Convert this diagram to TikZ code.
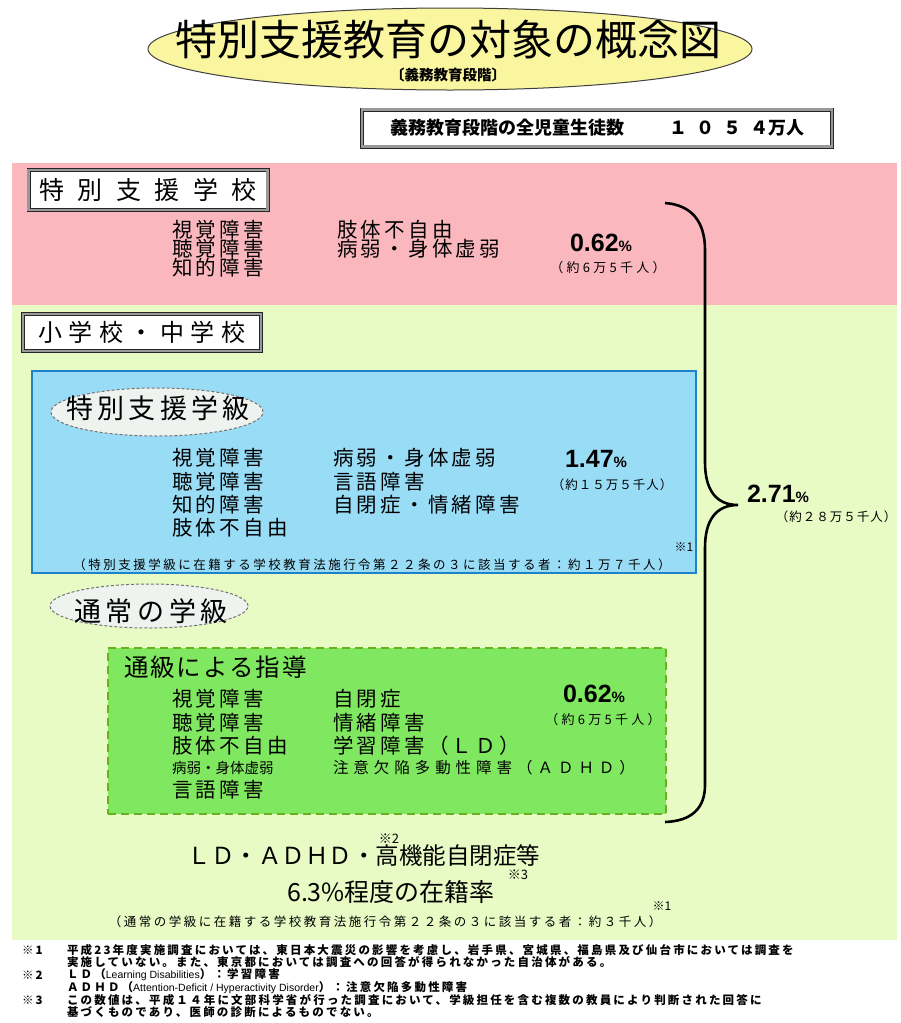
\documentclass[tikz,border=0pt]{standalone}
\usepackage{fontspec}
\usetikzlibrary{shapes.geometric}
\newfontfamily\jp{Noto Sans CJK JP}
\newfontfamily\jpR[LetterSpace=16]{Noto Sans CJK JP}
\newfontfamily\jpS[LetterSpace=20]{Noto Sans CJK JP}
\newfontfamily\jpF[LetterSpace=19]{Noto Sans CJK JP}
\newfontfamily\jpT[LetterSpace=8]{Noto Sans CJK JP}
\newfontfamily\jpW[LetterSpace=32]{Noto Sans CJK JP}
\newfontfamily\jpX[LetterSpace=25]{Noto Sans CJK JP}
\newfontfamily\lat{Liberation Sans}
\definecolor{pinkbg}{RGB}{250,184,190}
\definecolor{greenbg}{RGB}{232,251,197}
\definecolor{bluefill}{RGB}{153,220,246}
\definecolor{blueline}{RGB}{30,130,200}
\definecolor{gfill}{RGB}{128,232,96}
\definecolor{gline}{RGB}{105,175,30}
\definecolor{titley}{RGB}{250,246,160}
\definecolor{ellfill}{RGB}{238,243,240}
\newcommand\gapk[1]{\kern#1pt}
\newcommand\pcs{{\fontsize{15}{15}\selectfont\%}}
\newcommand\latf{\lat\mdseries\fontsize{10.5}{10.5}\selectfont}
\begin{document}
\begin{tikzpicture}[x=1pt,y=-1pt,
  lbl/.style={inner sep=0pt, outer sep=0pt},
  row/.style={lbl, anchor=west, font=\fontsize{20.5}{20.5}\jpR},
  rowsmall/.style={lbl, anchor=west, font=\fontsize{14.5}{14.5}\jp},
  rowwide/.style={lbl, anchor=west, font=\fontsize{15.5}{15.5}\jpW},
  pct/.style={lbl, anchor=base west, font=\fontsize{25}{25}\lat\bfseries},
  cnt/.style={lbl, font=\fontsize{13}{13}\jpX},
  cntw/.style={lbl, font=\fontsize{12.5}{12.5}\jpT},
  note/.style={lbl, font=\fontsize{12.5}{12.5}\jpS},
  refmark/.style={lbl, font=\fontsize{12}{12}\jp},
  dblbox/.style={draw=black!85, line width=0.9pt, double=black!40, double distance=2.2pt, fill=white, inner sep=0pt},
  dashell/.style={ellipse, draw=black!55, dash pattern=on 3pt off 2pt, line width=1pt, fill=ellfill, inner sep=0pt},
  foot/.style={lbl, anchor=west, font=\fontsize{11.5}{11.5}\jpF\bfseries},
]
\useasboundingbox (0,0) rectangle (900,1023);
\fill[white] (0,0) rectangle (900,1023);

% zones
\node[lbl, fill=pinkbg, minimum width=885pt, minimum height=142pt, anchor=north west] (pinkzone) at (12,163) {};
\node[lbl, fill=greenbg, minimum width=885pt, minimum height=635pt, anchor=north west] (greenzone) at (12,305) {};

% title
\node[ellipse, draw=black!75, line width=1pt, fill=titley, minimum width=604pt, minimum height=82pt, inner sep=0pt] (titleell) at (450,49) {};
\node[lbl, font=\fontsize{42}{42}\jp] (title) at (448,40) {特別支援教育の対象の概念図};
\node[lbl, font=\fontsize{14.5}{14.5}\jp\bfseries] (subtitle) at (448,75) {〔義務教育段階〕};

% total box
\node[dblbox, minimum width=470pt, minimum height=37pt, font=\fontsize{18}{18}\jp\bfseries] (total) at (597,128)
  {義務教育段階の全児童生徒数\gapk{45}１\gapk{9}０\gapk{9}５\gapk{9}４万人};

% special school
\node[dblbox, minimum width=239pt, minimum height=40pt, font=\fontsize{25}{25}\jp] (schoolbox) at (148,190)
  {特\gapk{13.4}別\gapk{13.4}支\gapk{13.4}援\gapk{13.4}学\gapk{13.4}校};
\node[row] (p11) at (172,230) {視覚障害};
\node[row] (p12) at (172,249) {聴覚障害};
\node[row] (p13) at (172,268) {知的障害};
\node[row] (p21) at (337,230) {肢体不自由};
\node[row] (p22) at (337,249) {病弱・身体虚弱};
\node[pct] (p1pct) at (570,251) {0.62\pcs};
\node[cnt] (p1cnt) at (608,268) {（約6万5千人）};

% elementary / junior high
\node[dblbox, minimum width=238pt, minimum height=37pt, font=\fontsize{24}{24}\jp] (eleBox) at (142,332.5)
  {小\gapk{6.5}学\gapk{6.5}校\gapk{6.5}・\gapk{6.5}中\gapk{6.5}学\gapk{6.5}校};

% special class
\node[lbl, draw=blueline, line width=2pt, fill=bluefill, minimum width=664pt, minimum height=202pt] (bluebox) at (364,472) {};
\node[dashell, minimum width=212pt, minimum height=48pt] (clsell) at (157,412) {};
\node[lbl, font=\fontsize{27}{27}\jp] (clstext) at (158,408)
  {特\gapk{4.2}別\gapk{4.2}支\gapk{4.2}援\gapk{4.2}学\gapk{4.2}級};
\node[row] (b11) at (172,458) {視覚障害};
\node[row] (b12) at (172,482) {聴覚障害};
\node[row] (b13) at (172,505) {知的障害};
\node[row] (b14) at (172,528) {肢体不自由};
\node[row] (b21) at (333,458) {病弱・身体虚弱};
\node[row] (b22) at (333,482) {言語障害};
\node[row] (b23) at (333,505) {自閉症・情緒障害};
\node[pct] (b1pct) at (565,467) {1.47\pcs};
\node[cntw] (b1cnt) at (612,485) {（約１５万５千人）};
\node[refmark] (b1ref) at (684,547) {※1};
\node[note] (b1note) at (372,565) {（特別支援学級に在籍する学校教育法施行令第２２条の３に該当する者：約１万７千人）};

% regular class
\node[dashell, minimum width=198pt, minimum height=44pt] (regell) at (149,606) {};
\node[lbl, font=\fontsize{27}{27}\jp] (regtext) at (151,611)
  {通\gapk{4.6}常\gapk{4.6}の\gapk{4.6}学\gapk{4.6}級};

% tsukyu
\node[lbl, draw=gline, line width=2pt, dash pattern=on 8pt off 5pt, fill=gfill, minimum width=558pt, minimum height=166pt] (tsukyu) at (387,731) {};
\node[lbl, anchor=west, font=\fontsize{24.5}{24.5}\jpT] (tsukyut) at (124,667) {通級による指導};
\node[row] (g11) at (172,699) {視覚障害};
\node[row] (g12) at (172,723) {聴覚障害};
\node[row] (g13) at (172,746) {肢体不自由};
\node[rowsmall] (g14) at (172,768) {病弱・身体虚弱};
\node[row] (g15) at (172,790) {言語障害};
\node[row] (g21) at (333,699) {自閉症};
\node[row] (g22) at (333,723) {情緒障害};
\node[row] (g23) at (333,746) {学習障害（ＬＤ）};
\node[rowwide] (g24) at (333,768) {注意欠陥多動性障害（ＡＤＨＤ）};
\node[pct] (g1pct) at (563,702) {0.62\pcs};
\node[cnt] (g1cnt) at (603,720) {（約6万5千人）};

% brace and total
\draw[line width=2.6pt] (665,203) .. controls (692,205) and (705,222) .. (705,250) -- (705,462)
  .. controls (705,490) and (716,505) .. (738,505) .. controls (716,505) and (705,520) .. (705,548)
  -- (705,785) .. controls (705,808) and (692,821) .. (665,822);
\node[pct] (totpct) at (747,502) {2.71\pcs};
\node[cntw] (totcnt) at (836,517) {（約２８万５千人）};

% LD line
\node[lbl, font=\fontsize{23.5}{23.5}\jp] (ldline) at (364,856) {ＬＤ・ＡＤＨＤ・高機能自閉症等};
\node[lbl, font=\fontsize{13}{13}\jp] (ref2) at (389,839) {※2};
\node[lbl, font=\fontsize{25}{25}\jp] (rate) at (391,892) {6.3\%程度の在籍率};
\node[lbl, font=\fontsize{13}{13}\jp] (ref3) at (518,875) {※3};
\node[refmark] (ref1b) at (662,906) {※1};
\node[note] (gnote) at (385,922) {（通常の学級に在籍する学校教育法施行令第２２条の３に該当する者：約３千人）};

% footnotes
\node[foot] (f1m) at (22,950) {※1};
\node[foot] (f1a) at (67,950) {平成23年度実施調査においては、東日本大震災の影響を考慮し、岩手県、宮城県、福島県及び仙台市においては調査を};
\node[foot] (f1b) at (67,962.5) {実施していない。また、東京都においては調査への回答が得られなかった自治体がある。};
\node[foot] (f2m) at (22,975) {※2};
\node[foot] (f2a) at (67,975) {ＬＤ（{\latf Learning Disabilities}）：学習障害};
\node[foot] (f2b) at (67,987.5) {ＡＤＨＤ（{\latf Attention-Deficit / Hyperactivity Disorder}）：注意欠陥多動性障害};
\node[foot] (f3m) at (22,1000) {※3};
\node[foot] (f3a) at (67,1000) {この数値は、平成１４年に文部科学省が行った調査において、学級担任を含む複数の教員により判断された回答に};
\node[foot] (f3b) at (67,1012.5) {基づくものであり、医師の診断によるものでない。};
\end{tikzpicture}
\end{document}
